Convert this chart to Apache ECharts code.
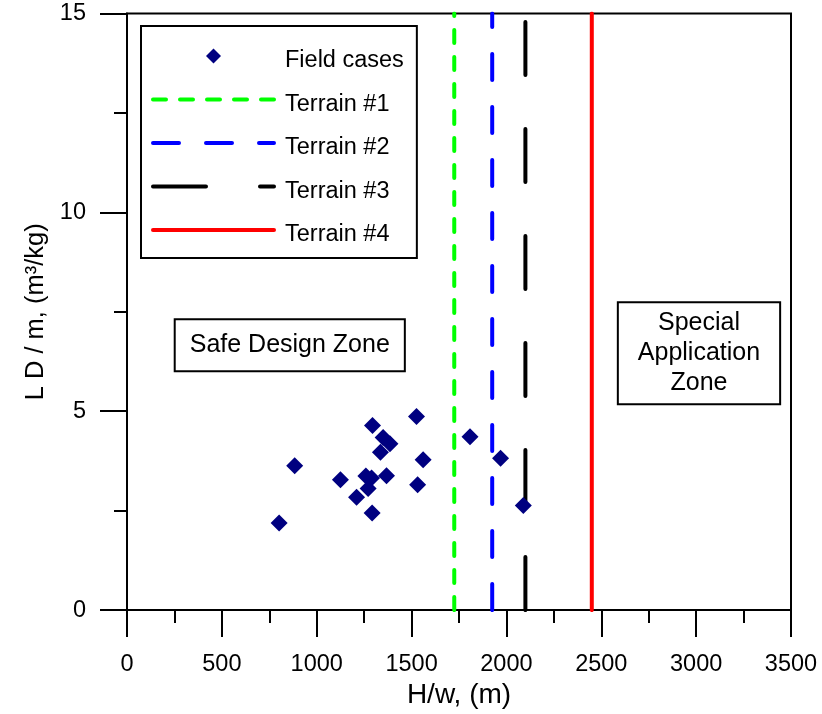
<!DOCTYPE html>
<html>
<head>
<meta charset="utf-8">
<script src="https://cdn.jsdelivr.net/npm/echarts@6/dist/echarts.min.js"></script>
<style>
  html, body { margin: 0; padding: 0; background: #fff; }
  #chart { width: 822px; height: 714px; }
</style>
</head>
<body>
<div id="chart"></div>
<script>
// Field measurements: H/w (m) against L D / m (m3/kg)
const fieldH  = [1526, 1294, 1350, 1386, 1336, 1561, 884, 1808, 1969, 1368, 1259, 1289, 1125, 1271, 1532, 1210, 2089, 1292, 802];
const fieldLD = [4.87, 4.64, 4.34, 4.18, 3.97, 3.78, 3.63, 4.36, 3.82, 3.38, 3.37, 3.32, 3.28, 3.06, 3.15, 2.84, 2.63, 2.44, 2.19];

// Terrain limits on H/w (m)
const terrainNames = ['Terrain #1', 'Terrain #2', 'Terrain #3', 'Terrain #4'];
const terrainH     = [1725, 1925, 2100, 2450];

// Axis ranges
const xRange = [0, 3500, 500];
const yRange = [0, 15, 5];

const FONT = "'Liberation Sans', Arial, Helvetica, sans-serif";
const FIELD_COLOR = '#000080';
const DIAMOND_PATH = 'path://M5,0 L10,5 L5,10 L0,5 Z';

const terrainStyles = [
  { color: '#00ff00', type: [13, 14] },
  { color: '#0000ff', type: [26, 27] },
  { color: '#000000', type: [53, 54] },
  { color: '#ff0000', type: 'solid' }
];

const terrainLineStyle = i => ({
  color: terrainStyles[i].color,
  width: 4,
  type: terrainStyles[i].type,
  cap: 'round'
});

const terrainSeries = terrainNames.map((name, i) => ({
  name: name,
  type: 'line',
  data: [[terrainH[i], yRange[0]], [terrainH[i], yRange[1]]],
  symbol: 'none',
  silent: true,
  itemStyle: { color: terrainStyles[i].color },
  lineStyle: terrainLineStyle(i),
  z: 3
}));

const legendData = [{ name: 'Field cases', icon: DIAMOND_PATH }].concat(
  terrainNames.map((name, i) => ({
    name: name,
    itemStyle: { opacity: 0 },
    lineStyle: terrainLineStyle(i)
  }))
);

const axisLine = { show: true, onZero: false, lineStyle: { color: '#000', width: 2 } };

const option = {
  animation: false,
  backgroundColor: '#fff',
  grid: {
    left: 127, right: 31, top: 13.5, bottom: 102.5,
    show: true, borderColor: '#000', borderWidth: 2, backgroundColor: 'transparent'
  },
  legend: {
    data: legendData,
    orient: 'vertical',
    left: 141, top: 26,
    itemWidth: 121, itemHeight: 15,
    itemGap: 9.5,
    symbolKeepAspect: true,
    padding: [13, 13, 11, 10],
    borderColor: '#000', borderWidth: 2,
    backgroundColor: '#fff',
    formatter: '{t|{name}}',
    textStyle: {
      fontFamily: FONT, fontSize: 23.5, color: '#000',
      rich: { t: { fontFamily: FONT, fontSize: 23.5, color: '#000', lineHeight: 24, padding: [10, 0, 0, 6] } }
    }
  },
  xAxis: {
    type: 'value',
    min: xRange[0], max: xRange[1], interval: xRange[2],
    name: 'H/w, (m)',
    nameLocation: 'middle', nameGap: 62,
    nameTextStyle: { fontFamily: FONT, fontSize: 28, color: '#000' },
    axisLine: axisLine,
    axisTick: { show: true, inside: false, length: 27, lineStyle: { color: '#000', width: 2 } },
    minorTick: { show: true, splitNumber: 2, length: 13, lineStyle: { color: '#000', width: 2 } },
    axisLabel: { fontFamily: FONT, fontSize: 23.5, color: '#000', margin: 42, formatter: v => String(v) },
    splitLine: { show: false }
  },
  yAxis: {
    type: 'value',
    min: yRange[0], max: yRange[1], interval: yRange[2],
    name: 'L D / m, (m³/kg)',
    nameLocation: 'middle', nameGap: 76, nameRotate: 90,
    nameTextStyle: { fontFamily: FONT, fontSize: 25.5, color: '#000' },
    axisLine: axisLine,
    axisTick: { show: true, inside: false, length: 27, lineStyle: { color: '#000', width: 2 } },
    minorTick: { show: true, splitNumber: 2, length: 13, lineStyle: { color: '#000', width: 2 } },
    axisLabel: { fontFamily: FONT, fontSize: 23.5, color: '#000', margin: 41, formatter: v => String(v) },
    splitLine: { show: false }
  },
  series: [
    {
      name: 'Field cases',
      type: 'scatter',
      data: fieldH.map((h, i) => [h, fieldLD[i]]),
      symbol: 'diamond',
      symbolSize: 17,
      itemStyle: { color: FIELD_COLOR, opacity: 1 },
      z: 5
    }
  ].concat(terrainSeries)
};

const chart = echarts.init(document.getElementById('chart'), null, { renderer: 'canvas' });
chart.setOption(option);

// Zone labels, anchored in data coordinates
const zoneLabels = [
  { text: 'Safe Design Zone', at: [858, 6.66], padding: [10, 14, 10, 14] },
  { text: 'Special\nApplication\nZone', at: [3015, 6.46], padding: [5, 19, 5, 19] }
];

chart.setOption({
  graphic: zoneLabels.map(z => {
    const p = chart.convertToPixel({ gridIndex: 0 }, z.at);
    return {
      type: 'text',
      x: p[0], y: p[1],
      z: 10,
      style: {
        text: z.text,
        font: '25px ' + FONT,
        fill: '#000',
        align: 'center', verticalAlign: 'middle',
        textAlign: 'center', textVerticalAlign: 'middle',
        lineHeight: 30,
        backgroundColor: '#fff',
        borderColor: '#000',
        borderWidth: 2,
        padding: z.padding
      }
    };
  })
});
</script>
</body>
</html>
